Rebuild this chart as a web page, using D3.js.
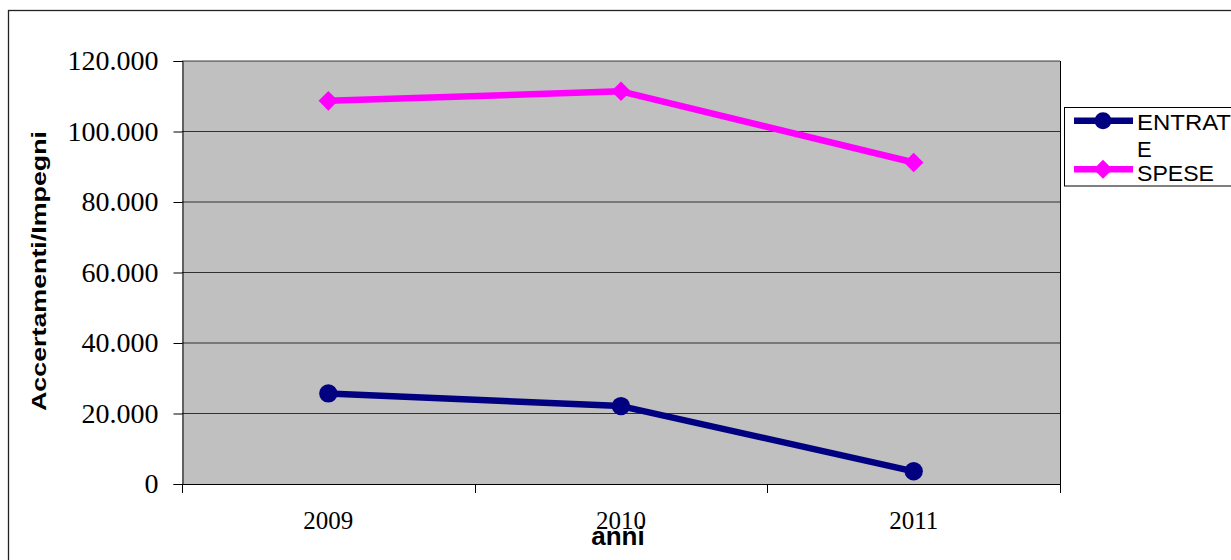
<!DOCTYPE html>
<html>
<head>
<meta charset="utf-8">
<script src="https://d3js.org/d3.v7.min.js"></script>
<style>
  html, body { margin: 0; padding: 0; background: #fff; }
  svg { display: block; }
</style>
</head>
<body>
<svg id="chart" width="1231" height="560"></svg>
<script>
const years = ["2009", "2010", "2011"];
const entrate = [25700, 22100, 3600];
const spese = [108700, 111400, 91200];
const yTicks = [0, 20000, 40000, 60000, 80000, 100000, 120000];
const seriesNames = ["ENTRATE", "SPESE"];
const seriesColors = ["#000080", "#FF00FF"];
const yTitle = "Accertamenti/Impegni";
const xTitle = "anni";

const svg = d3.select("#chart");
const plot = { left: 182, right: 1060, top: 61, bottom: 484 };

// outer chart border
svg.append("rect")
  .attr("x", 8.5).attr("y", 10.5)
  .attr("width", 1240).attr("height", 600)
  .attr("fill", "#fff").attr("stroke", "#222").attr("stroke-width", 1.3);

const x = d3.scaleBand().domain(years).range([plot.left, plot.right]);
const y = d3.scaleLinear().domain([0, 120000]).range([plot.bottom, plot.top]);
const it = d3.formatLocale({ decimal: ",", thousands: ".", grouping: [3], currency: ["€", ""] });
const fmt = it.format(",");

// plot area
svg.append("rect")
  .attr("x", plot.left).attr("y", plot.top)
  .attr("width", plot.right - plot.left).attr("height", plot.bottom - plot.top)
  .attr("fill", "#C0C0C0");

// gridlines
svg.append("g").selectAll("line").data(yTicks.filter(d => d > 0)).join("line")
  .attr("x1", plot.left).attr("x2", plot.right)
  .attr("y1", d => y(d)).attr("y2", d => y(d))
  .attr("stroke", "#000").attr("stroke-width", 1).attr("opacity", 0.75);

// right border of plot
svg.append("line")
  .attr("x1", plot.right + 0.5).attr("x2", plot.right + 0.5)
  .attr("y1", plot.top).attr("y2", plot.bottom)
  .attr("stroke", "#000").attr("stroke-width", 1);

// y axis
const yAxis = d3.axisLeft(y).tickValues(yTicks).tickFormat(fmt).tickSize(9).tickPadding(15);
const gy = svg.append("g").attr("transform", `translate(${plot.left + 0.5},0)`).call(yAxis);
gy.select(".domain").attr("stroke", "#000");
gy.selectAll(".tick line").attr("stroke", "#000");
gy.selectAll(".tick text")
  .attr("font-family", "'Liberation Serif', 'Times New Roman', serif")
  .attr("font-size", 28).attr("fill", "#000");

// x axis: ticks at category boundaries
const xBounds = years.map(d => x(d)).concat([plot.right]);
const gx = svg.append("g");
gx.append("line")
  .attr("x1", plot.left).attr("x2", plot.right)
  .attr("y1", plot.bottom + 0.5).attr("y2", plot.bottom + 0.5)
  .attr("stroke", "#000");
gx.selectAll("line.tk").data(xBounds).join("line").attr("class", "tk")
  .attr("x1", d => Math.round(d) + 0.5).attr("x2", d => Math.round(d) + 0.5)
  .attr("y1", plot.bottom).attr("y2", plot.bottom + 9)
  .attr("stroke", "#000");
gx.selectAll("text").data(years).join("text")
  .attr("x", d => x(d) + x.bandwidth() / 2)
  .attr("y", 529)
  .attr("text-anchor", "middle")
  .attr("font-family", "'Liberation Serif', 'Times New Roman', serif")
  .attr("font-size", 25).attr("fill", "#000")
  .text(d => d);

// axis titles
svg.append("text")
  .attr("transform", `translate(46,271) rotate(-90)`)
  .attr("text-anchor", "middle")
  .attr("font-family", "'Liberation Sans', Arial, sans-serif")
  .attr("font-weight", "bold").attr("font-size", 21).attr("fill", "#000")
  .attr("textLength", 280).attr("lengthAdjust", "spacingAndGlyphs")
  .text(yTitle);
svg.append("text")
  .attr("x", 618).attr("y", 545)
  .attr("text-anchor", "middle")
  .attr("font-family", "'Liberation Sans', Arial, sans-serif")
  .attr("font-weight", "bold").attr("font-size", 26).attr("fill", "#000")
  .text(xTitle);

// series
const cx = d => x(d) + x.bandwidth() / 2;
const line = d3.line().x((d, i) => cx(years[i])).y(d => y(d));
const diamond = (r) => `M0,${-r}L${r},0L0,${r}L${-r},0Z`;

[entrate, spese].forEach((vals, si) => {
  svg.append("path").datum(vals)
    .attr("d", line)
    .attr("fill", "none").attr("stroke", seriesColors[si])
    .attr("stroke-width", 6.5).attr("stroke-linejoin", "round");
  const g = svg.append("g");
  vals.forEach((v, i) => {
    if (si === 0) {
      g.append("circle").attr("cx", cx(years[i])).attr("cy", y(v)).attr("r", 9.2)
        .attr("fill", seriesColors[si]);
    } else {
      g.append("path").attr("transform", `translate(${cx(years[i])},${y(v)})`)
        .attr("d", diamond(9.8)).attr("fill", seriesColors[si]);
    }
  });
});

// legend
const lg = svg.append("g");
lg.append("rect").attr("x", 1064.5).attr("y", 107.5).attr("width", 200).attr("height", 78.5)
  .attr("fill", "#fff").attr("stroke", "#000").attr("stroke-width", 1);
const legY = [120.7, 169.3];
seriesNames.forEach((name, i) => {
  lg.append("line").attr("x1", 1074).attr("x2", 1133)
    .attr("y1", legY[i]).attr("y2", legY[i])
    .attr("stroke", seriesColors[i]).attr("stroke-width", 6.5);
  if (i === 0) {
    lg.append("circle").attr("cx", 1103).attr("cy", legY[i]).attr("r", 8.5).attr("fill", seriesColors[i]);
  } else {
    lg.append("path").attr("transform", `translate(1103,${legY[i]})`).attr("d", diamond(9.5)).attr("fill", seriesColors[i]);
  }
});
const legFont = "'Liberation Sans', Arial, sans-serif";
lg.append("text").attr("x", 1137).attr("y", 130).attr("font-family", legFont).attr("font-size", 22)
  .attr("textLength", 94).attr("lengthAdjust", "spacingAndGlyphs")
  .text(seriesNames[0].slice(0, 6));
lg.append("text").attr("x", 1137).attr("y", 157).attr("font-family", legFont).attr("font-size", 22)
  .text(seriesNames[0].slice(6));
lg.append("text").attr("x", 1137).attr("y", 181).attr("font-family", legFont).attr("font-size", 22)
  .attr("textLength", 77).attr("lengthAdjust", "spacingAndGlyphs")
  .text(seriesNames[1]);
</script>
</body>
</html>
